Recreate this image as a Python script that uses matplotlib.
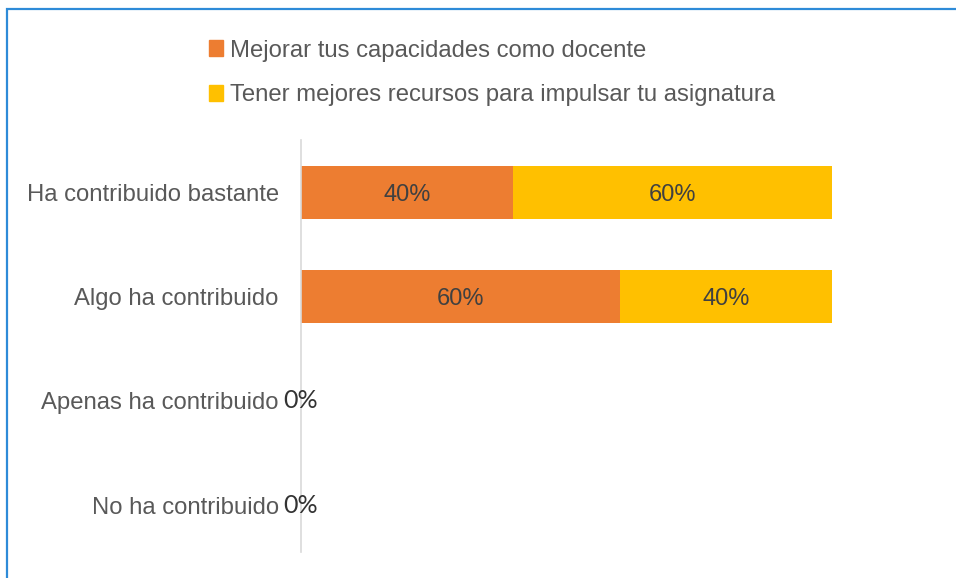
import matplotlib.pyplot as plt
from matplotlib.patches import Rectangle, Patch

categories = ['Ha contribuido bastante', 'Algo ha contribuido',
              'Apenas ha contribuido', 'No ha contribuido']
series_names = ['Mejorar tus capacidades como docente',
                'Tener mejores recursos para impulsar tu asignatura']
mejorar = [0.40, 0.60, 0.0, 0.0]
recursos = [0.60, 0.40, 0.0, 0.0]
colors = ['#ED7D31', '#FFC000']

plt.rcParams['font.family'] = ['Liberation Sans', 'DejaVu Sans']

fig = plt.figure(figsize=(9.56, 5.78), dpi=100)
ax = fig.add_axes([301 / 956, 1 - 552 / 578, 531 / 956, 412 / 578])

y = list(range(len(categories)))
ax.barh(y, mejorar, height=0.51, color=colors[0])
ax.barh(y, recursos, left=mejorar, height=0.51, color=colors[1])

for i in y:
    total = mejorar[i] + recursos[i]
    if total == 0:
        ax.text(0, i, '0%', ha='center', va='center', fontsize=18,
                color='#333333', family=['Lato', 'DejaVu Sans'])
        continue
    ax.text(mejorar[i] / 2, i, f'{mejorar[i]:.0%}', ha='center',
            va='center_baseline', fontsize=17, color='#404040')
    ax.text(mejorar[i] + recursos[i] / 2, i, f'{recursos[i]:.0%}', ha='center',
            va='center_baseline', fontsize=17, color='#404040')

ax.set_xlim(0, 1)
ax.set_ylim(3.45, -0.5)
ax.set_yticks(y)
ax.set_yticklabels(categories, fontsize=17.2, color='#595959')
ax.tick_params(axis='y', length=0, pad=16)
ax.set_xticks([])
for s in ['top', 'right', 'bottom']:
    ax.spines[s].set_visible(False)
ax.spines['left'].set_color('#d9d9d9')
ax.spines['left'].set_linewidth(1.2)

handles = [Patch(color=colors[0]), Patch(color=colors[1])]
fig.legend(handles, series_names, loc='upper left',
           bbox_to_anchor=(187 / 956, 1 - 18 / 578), frameon=False,
           fontsize=17.2, labelcolor='#595959', handlelength=0.6,
           handleheight=0.6, handletextpad=0.3, labelspacing=0.96)

fig.patches.append(Rectangle((7 / 956, -0.1), 1.2, 1 - 9 / 578 + 0.1,
                             transform=fig.transFigure, fill=False,
                             edgecolor='#2E8BD8', linewidth=1.6))

plt.savefig('out.png', dpi=100)
